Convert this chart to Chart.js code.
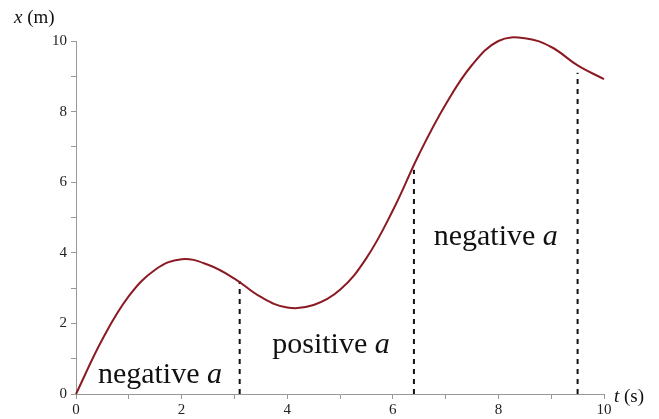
<!DOCTYPE html>
<html>
<head>
<meta charset="utf-8">
<script src="https://cdn.jsdelivr.net/npm/chart.js@4/dist/chart.umd.min.js"></script>
<style>
  html, body { margin: 0; padding: 0; background: #fff; }
  #wrap { width: 659px; height: 419px; }
</style>
</head>
<body>
<div id="wrap"><canvas id="motion-chart"></canvas></div>
<script>
// position x(t)
const times = [0, 0.5, 1, 1.5, 2, 2.5, 3, 3.5, 4, 4.5, 5, 5.5, 6, 6.5, 7, 7.5, 8, 8.5, 9, 9.5, 10];
const positions = [0, 1.55, 2.77, 3.52, 3.82, 3.66, 3.27, 2.75, 2.45, 2.52, 2.95, 3.85, 5.2, 6.8, 8.2, 9.32, 10.0, 10.08, 9.83, 9.31, 8.92];

// dashed dividers between regions of acceleration
const dividerTimes = [3.1, 6.4, 9.5];
const dividerTops = [3.2, 6.35, 9.1];

// region labels
const regionLabels = ["negative ", "positive ", "negative "];
const regionAt = [[1.59, 0.31], [4.83, 1.16], [7.95, 4.22]];

const xTicks = [0, 2, 4, 6, 8, 10];

var ctx = document.getElementById('motion-chart');

const curve = times.map((t, i) => ({ x: t, y: positions[i] }));

const dividers = dividerTimes.map((t, i) => ({
    data: [{ x: t, y: 0 }, { x: t, y: dividerTops[i] }],
    borderColor: '#111',
    borderWidth: 2,
    borderDash: [5, 5],
    pointRadius: 0,
    showLine: true
}));

// axis titles and region labels
const labelsPlugin = {
    id: 'labels',
    afterDraw(chart) {
        const c = chart.ctx;
        const xs = chart.scales.x, ys = chart.scales.y;
        c.save();
        c.fillStyle = '#111';
        c.textBaseline = 'alphabetic';
        c.textAlign = 'left';

        const drawMixed = (parts, x, y, size, center) => {
            let w = 0;
            parts.forEach(p => {
                c.font = (p[1] ? 'italic ' : '') + size + 'px "Liberation Serif", serif';
                w += c.measureText(p[0]).width;
            });
            let px = center ? x - w / 2 : x;
            parts.forEach(p => {
                c.font = (p[1] ? 'italic ' : '') + size + 'px "Liberation Serif", serif';
                c.fillText(p[0], px, y);
                px += c.measureText(p[0]).width;
            });
        };

        regionLabels.forEach((txt, i) => {
            const px = xs.getPixelForValue(regionAt[i][0]);
            const py = ys.getPixelForValue(regionAt[i][1]);
            drawMixed([[txt, false], ['a', true]], px, py, 30, true);
        });

        drawMixed([['x', true], [' (m)', false]], 14, 23, 19, false);
        drawMixed([['t', true], [' (s)', false]], 614, 402, 19, false);
        c.restore();
    }
};

var chart = new Chart(ctx, {
    type: 'scatter',
    data: {
        datasets: [{
            data: curve,
            borderColor: '#8b1a22',
            borderWidth: 2,
            pointRadius: 0,
            showLine: true,
            tension: 0.4,
            clip: false
        }, ...dividers]
    },
    options: {
        responsive: true,
        maintainAspectRatio: false,
        animation: false,
        layout: { padding: { left: 0, top: 41, right: 55, bottom: 0 } },
        plugins: {
            legend: { display: false },
            tooltip: { enabled: false }
        },
        scales: {
            x: {
                type: 'linear',
                min: 0,
                max: 10,
                afterFit: (s) => { s.height = 25; },
                afterBuildTicks: (s) => {
                    s.ticks = [];
                    for (let v = 0; v <= 10; v++) s.ticks.push({ value: v });
                },
                border: { color: '#999', width: 1 },
                grid: { drawOnChartArea: false, tickLength: 5, tickColor: '#999' },
                ticks: {
                    color: '#222',
                    padding: 2,
                    maxRotation: 0,
                    autoSkip: false,
                    font: { family: '"Liberation Serif", serif', size: 15 },
                    callback: (v) => xTicks.includes(v) ? String(v) : ''
                }
            },
            y: {
                type: 'linear',
                min: 0,
                max: 10,
                afterFit: (s) => { s.width = 76; },
                afterBuildTicks: (s) => {
                    s.ticks = [];
                    for (let v = 0; v <= 10; v++) s.ticks.push({ value: v });
                },
                border: { color: '#999', width: 1 },
                grid: { drawOnChartArea: false, tickLength: 5, tickColor: '#999' },
                ticks: {
                    color: '#222',
                    padding: 4,
                    autoSkip: false,
                    font: { family: '"Liberation Serif", serif', size: 15 },
                    callback: (v) => v % 2 === 0 ? String(v) : ''
                }
            }
        }
    },
    plugins: [labelsPlugin]
});
</script>
</body>
</html>
